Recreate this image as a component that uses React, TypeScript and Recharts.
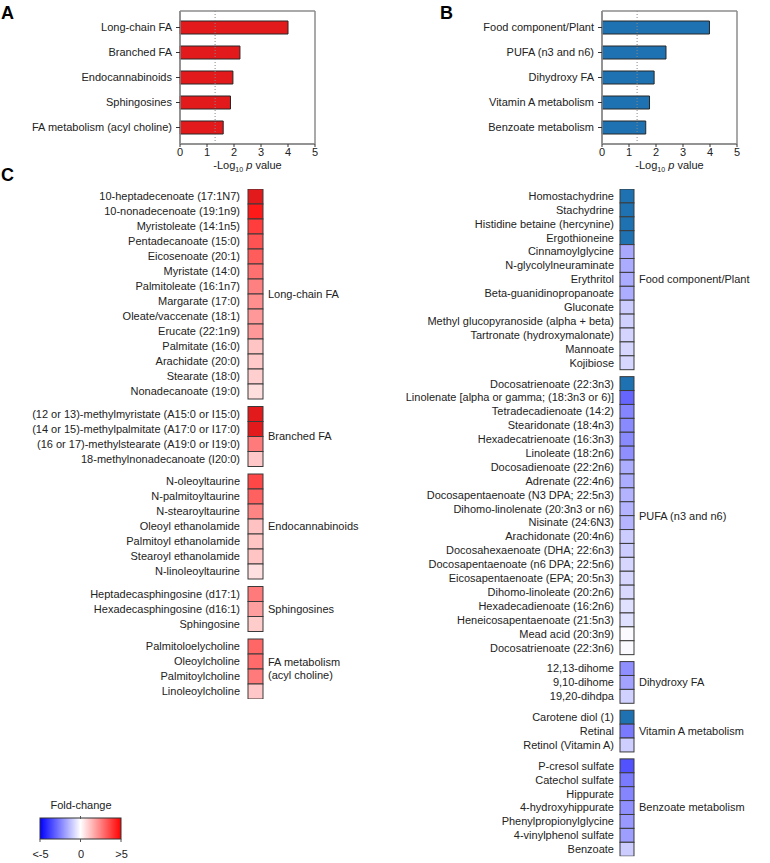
import {
  BarChart,
  Bar,
  XAxis,
  YAxis,
  CartesianGrid,
  ReferenceLine,
  ScatterChart,
  Scatter,
} from 'recharts';

// ---- panel A / B: pathway enrichment ----
const pathwaysUp = ['Long-chain FA', 'Branched FA', 'Endocannabinoids', 'Sphingosines', 'FA metabolism (acyl choline)'];
const logPUp = [4.0, 2.22, 1.96, 1.87, 1.6];
const pathwaysDown = ['Food component/Plant', 'PUFA (n3 and n6)', 'Dihydroxy FA', 'Vitamin A metabolism', 'Benzoate metabolism'];
const logPDown = [3.98, 2.37, 1.93, 1.76, 1.62];
const xTicks = [0, 1, 2, 3, 4, 5];
const SIG_LINE = 1.3;

// ---- panel C: fold-change per metabolite ----
const longChainNames = [
  '10-heptadecenoate (17:1N7)', '10-nonadecenoate (19:1n9)', 'Myristoleate (14:1n5)', 'Pentadecanoate (15:0)',
  'Eicosenoate (20:1)', 'Myristate (14:0)', 'Palmitoleate (16:1n7)', 'Margarate (17:0)', 'Oleate/vaccenate (18:1)',
  'Erucate (22:1n9)', 'Palmitate (16:0)', 'Arachidate (20:0)', 'Stearate (18:0)', 'Nonadecanoate (19:0)',
];
const longChainFC = [6, 4.5, 3.8, 3.4, 3.2, 2.8, 2.5, 2.2, 2.0, 2.0, 1.15, 1.05, 0.95, 0.65];

const branchedNames = [
  '(12 or 13)-methylmyristate (A15:0 or I15:0)', '(14 or 15)-methylpalmitate (A17:0 or I17:0)',
  '(16 or 17)-methylstearate (A19:0 or I19:0)', '18-methylnonadecanoate (I20:0)',
];
const branchedFC = [6, 6, 2.6, 1.1];

const endoNames = [
  'N-oleoyltaurine', 'N-palmitoyltaurine', 'N-stearoyltaurine', 'Oleoyl ethanolamide',
  'Palmitoyl ethanolamide', 'Stearoyl ethanolamide', 'N-linoleoyltaurine',
];
const endoFC = [3.6, 3.1, 2.4, 1.2, 1.15, 1.15, 0.6];

const sphingoNames = ['Heptadecasphingosine (d17:1)', 'Hexadecasphingosine (d16:1)', 'Sphingosine'];
const sphingoFC = [2.6, 1.9, 1.0];

const acylCholineNames = ['Palmitoloelycholine', 'Oleoylcholine', 'Palmitoylcholine', 'Linoleoylcholine'];
const acylCholineFC = [3.0, 2.9, 2.6, 1.1];

const foodNames = [
  'Homostachydrine', 'Stachydrine', 'Histidine betaine (hercynine)', 'Ergothioneine', 'Cinnamoylglycine',
  'N-glycolylneuraminate', 'Erythritol', 'Beta-guanidinopropanoate', 'Gluconate',
  'Methyl glucopyranoside (alpha + beta)', 'Tartronate (hydroxymalonate)', 'Mannoate', 'Kojibiose',
];
const foodFC = [-6, -6, -6, -6, -1.7, -1.65, -1.65, -1.6, -1.0, -0.9, -0.85, -0.8, -0.8];

const pufaNames = [
  'Docosatrienoate (22:3n3)', 'Linolenate [alpha or gamma; (18:3n3 or 6)]', 'Tetradecadienoate (14:2)',
  'Stearidonate (18:4n3)', 'Hexadecatrienoate (16:3n3)', 'Linoleate (18:2n6)', 'Docosadienoate (22:2n6)',
  'Adrenate (22:4n6)', 'Docosapentaenoate (N3 DPA; 22:5n3)', 'Dihomo-linolenate (20:3n3 or n6)',
  'Nisinate (24:6N3)', 'Arachidonate (20:4n6)', 'Docosahexaenoate (DHA; 22:6n3)',
  'Docosapentaenoate (n6 DPA; 22:5n6)', 'Eicosapentaenoate (EPA; 20:5n3)', 'Dihomo-linoleate (20:2n6)',
  'Hexadecadienoate (16:2n6)', 'Heneicosapentaenoate (21:5n3)', 'Mead acid (20:3n9)', 'Docosatrienoate (22:3n6)',
];
const pufaFC = [-6, -3.0, -2.4, -2.3, -2.3, -2.2, -1.6, -1.6, -1.5, -1.5, -1.45, -1.0, -1.0, -0.8, -0.8, -0.75, -0.6, -0.6, -0.1, -0.1];

const dihydroxyNames = ['12,13-dihome', '9,10-dihome', '19,20-dihdpa'];
const dihydroxyFC = [-2.2, -1.8, -0.9];

const vitANames = ['Carotene diol (1)', 'Retinal', 'Retinol (Vitamin A)'];
const vitAFC = [-6, -2.6, -0.95];

const benzoateNames = [
  'P-cresol sulfate', 'Catechol sulfate', 'Hippurate', '4-hydroxyhippurate',
  'Phenylpropionylglycine', '4-vinylphenol sulfate', 'Benzoate',
];
const benzoateFC = [-3.4, -2.6, -2.4, -2.2, -2.0, -1.9, -1.0];

const legendLabels = ['<-5', '0', '>5'];

const FONT = '"Liberation Sans", Arial, Helvetica, sans-serif';
const TEXT = '#222';
const RED = '#e31a1c';
const BLUE = '#1f72b2';
const GAP = 0.5;

type Group = { label: string[]; names: string[]; fc: number[] };

const leftGroups: Group[] = [
  { label: ['Long-chain FA'], names: longChainNames, fc: longChainFC },
  { label: ['Branched FA'], names: branchedNames, fc: branchedFC },
  { label: ['Endocannabinoids'], names: endoNames, fc: endoFC },
  { label: ['Sphingosines'], names: sphingoNames, fc: sphingoFC },
  { label: ['FA metabolism', '(acyl choline)'], names: acylCholineNames, fc: acylCholineFC },
];
const rightGroups: Group[] = [
  { label: ['Food component/Plant'], names: foodNames, fc: foodFC },
  { label: ['PUFA (n3 and n6)'], names: pufaNames, fc: pufaFC },
  { label: ['Dihydroxy FA'], names: dihydroxyNames, fc: dihydroxyFC },
  { label: ['Vitamin A metabolism'], names: vitANames, fc: vitAFC },
  { label: ['Benzoate metabolism'], names: benzoateNames, fc: benzoateFC },
];

function buildRows(groups: Group[]) {
  const rows: { x: number; y: number; name: string; fc: number }[] = [];
  const groupTicks: { y: number; label: string[] }[] = [];
  let pos = 0;
  groups.forEach((g, gi) => {
    if (gi > 0) pos += GAP;
    const start = pos;
    g.names.forEach((n, i) => {
      rows.push({ x: 0.5, y: pos + 0.5, name: n, fc: g.fc[i] });
      pos += 1;
    });
    groupTicks.push({ y: (start + pos) / 2, label: g.label });
  });
  return { rows, groupTicks, total: pos };
}

function fcColor(fc: number) {
  if (fc >= 5) return RED;
  if (fc <= -5) return BLUE;
  const t = Math.min(Math.abs(fc) / 5, 1);
  const c = Math.round(255 * (1 - t));
  return fc >= 0 ? `rgb(255,${c},${c})` : `rgb(${c},${c},255)`;
}

// plain single-line tick text (recharts would otherwise wrap long labels)
const plainTick = (format: (v: any) => string) => (p: any) => (
  <text x={p.x} y={p.y} dy="0.355em" textAnchor="end" fontSize={11} fill={TEXT} fontFamily={FONT}>
    {format(p.payload.value)}
  </text>
);

const axisTitle = (props: any) => {
  const vb = props.viewBox || {};
  const cx = vb.x + vb.width / 2;
  return (
    <text x={cx} y={vb.y + 25} textAnchor="middle" fontSize={11} fill={TEXT} fontFamily={FONT}>
      <tspan>-Log</tspan>
      <tspan fontSize={7} dy={3}>10</tspan>
      <tspan dy={-3}> </tspan>
      <tspan fontStyle="italic">p</tspan>
      <tspan> value</tspan>
    </text>
  );
};

function PathwayBars({ names, values, color, left, yAxisWidth }: { names: string[]; values: number[]; color: string; left: number; yAxisWidth: number }) {
  const data = names.map((n, i) => ({ name: n, value: values[i] }));
  return (
    <div style={{ position: 'absolute', left, top: 0 }}>
      <BarChart width={yAxisWidth + 135 + 16} height={175} data={data} layout="vertical" margin={{ top: 11, right: 16, bottom: 0, left: 0 }}>
        <CartesianGrid
          stroke="#8c8c8c"
          strokeWidth={1.5}
          verticalCoordinatesGenerator={({ offset }: any) => [offset.left, offset.left + offset.width]}
          horizontalCoordinatesGenerator={({ offset }: any) => [offset.top, offset.top + offset.height]}
        />
        <XAxis
          type="number"
          domain={[0, 5]}
          ticks={xTicks}
          height={31}
          tickSize={3}
          tickMargin={1}
          axisLine={{ stroke: '#8c8c8c', strokeWidth: 1.5 }}
          tickLine={{ stroke: '#333' }}
          tick={{ fontSize: 11, fill: TEXT, fontFamily: FONT }}
          label={{ content: axisTitle }}
        />
        <YAxis
          type="category"
          dataKey="name"
          width={yAxisWidth}
          tickSize={4}
          tickMargin={4}
          padding={{ top: 4, bottom: 4 }}
          interval={0}
          axisLine={{ stroke: '#8c8c8c', strokeWidth: 1.5 }}
          tickLine={{ stroke: '#333' }}
          tick={plainTick((v) => String(v))}
        />
        <ReferenceLine x={SIG_LINE} stroke="#888" strokeDasharray="1 2" />
        <Bar dataKey="value" fill={color} stroke="#262626" strokeWidth={1} barSize={13} isAnimationActive={false} />
      </BarChart>
    </div>
  );
}

function HeatColumn({ groups, left, labelWidth, groupWidth, cellW, cellH, tickGap }: {
  groups: Group[]; left: number; labelWidth: number; groupWidth: number; cellW: number; cellH: number; tickGap: number;
}) {
  const { rows, groupTicks, total } = buildRows(groups);
  const nameAt = new Map(rows.map((r) => [r.y, r.name]));
  const labelAt = new Map(groupTicks.map((g) => [g.y, g.label]));
  const top = 9;
  const bottom = 5;
  const height = top + total * cellH + bottom;

  const cellShape = (p: any) => (
    <rect
      x={p.cx - cellW / 2}
      y={p.cy - cellH / 2}
      width={cellW}
      height={cellH}
      fill={fcColor(p.payload.fc)}
      stroke="#3a3a3a"
      strokeWidth={1}
    />
  );

  const groupTick = (p: any) => {
    const lines: string[] = labelAt.get(p.payload.value) || [];
    const first = 0.355 - (lines.length - 1) * 0.59;
    return (
      <text x={p.x} y={p.y} textAnchor="start" fontSize={11} fill={TEXT} fontFamily={FONT}>
        {lines.map((l, i) => (
          <tspan key={i} x={p.x} dy={i === 0 ? `${first}em` : '1.18em'}>{l}</tspan>
        ))}
      </text>
    );
  };

  return (
    <div style={{ position: 'absolute', left, top: 180 }}>
      <ScatterChart width={labelWidth + cellW + groupWidth} height={height} margin={{ top, right: 0, bottom, left: 0 }}>
        <XAxis type="number" dataKey="x" domain={[0, 1]} hide />
        <YAxis
          yAxisId="rows"
          type="number"
          dataKey="y"
          domain={[0, total]}
          allowDataOverflow
          reversed
          ticks={rows.map((r) => r.y)}
          interval={0}
          width={labelWidth}
          tickSize={0}
          tickLine={false}
          axisLine={false}
          tickMargin={tickGap}
          tick={plainTick((v) => nameAt.get(v) || '')}
        />
        <YAxis
          yAxisId="groups"
          orientation="right"
          type="number"
          domain={[0, total]}
          allowDataOverflow
          reversed
          ticks={groupTicks.map((g) => g.y)}
          interval={0}
          width={groupWidth}
          tickSize={0}
          tickLine={false}
          axisLine={false}
          tickMargin={5}
          tick={groupTick}
        />
        <Scatter yAxisId="rows" data={rows} shape={cellShape} isAnimationActive={false} />
      </ScatterChart>
    </div>
  );
}

function FoldLegend() {
  return (
    <svg width={170} height={75} style={{ position: 'absolute', left: 0, top: 790 }} fontFamily={FONT}>
      <defs>
        <linearGradient id="fcGrad" x1="0" y1="0" x2="1" y2="0">
          <stop offset="0%" stopColor="#0000ff" />
          <stop offset="50%" stopColor="#ffffff" />
          <stop offset="100%" stopColor="#ff0000" />
        </linearGradient>
      </defs>
      <text x={81} y={19} textAnchor="middle" fontSize={11} fill={TEXT}>Fold-change</text>
      <rect x={40} y={28} width={81} height={21} fill="url(#fcGrad)" stroke="#333" strokeWidth={1} />
      <line x1={80.5} y1={26} x2={80.5} y2={29} stroke="#555" />
      {[40, 80.5, 121].map((x) => (
        <line key={x} x1={x} y1={49} x2={x} y2={52} stroke="#555" />
      ))}
      {legendLabels.map((l, i) => (
        <text key={l} x={[40.5, 81, 121.5][i]} y={68} textAnchor="middle" fontSize={11} fill={TEXT}>{l}</text>
      ))}
    </svg>
  );
}

const panelLabel = (text: string, left: number, top: number) => (
  <div style={{ position: 'absolute', left, top, fontSize: 18, lineHeight: '20px', fontWeight: 'bold', fontFamily: FONT, color: '#000' }}>
    {text}
  </div>
);

export default function App() {
  return (
    <div style={{ position: 'absolute', left: 0, top: 0, width: 770, height: 863, background: '#fff', fontFamily: FONT }}>
      {panelLabel('A', 1, 3)}
      {panelLabel('B', 440, 3)}
      {panelLabel('C', 1, 165)}
      <PathwayBars names={pathwaysUp} values={logPUp} color={RED} left={0} yAxisWidth={180} />
      <PathwayBars names={pathwaysDown} values={logPDown} color={BLUE} left={420} yAxisWidth={182} />
      <HeatColumn groups={leftGroups} left={0} labelWidth={248} groupWidth={140} cellW={15} cellH={15} tickGap={8} />
      <HeatColumn groups={rightGroups} left={400} labelWidth={220} groupWidth={150} cellW={14} cellH={13.9} tickGap={6} />
      <FoldLegend />
    </div>
  );
}
